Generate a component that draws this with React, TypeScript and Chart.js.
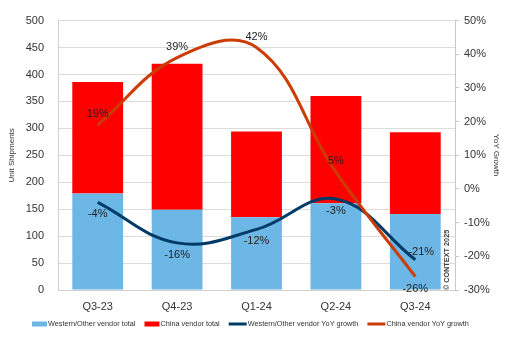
import { useEffect, useRef } from "react";
import { Chart, registerables } from "chart.js";

Chart.register(...registerables);

const categories = ["Q3-23", "Q4-23", "Q1-24", "Q2-24", "Q3-24"];
const westernTotal = [179, 149, 135, 161, 141];
const chinaTotal = [207, 271, 159, 199, 152];
const westernYoY = [-4, -16, -12, -3, -21];
const chinaYoY = [19, 39, 42, 5, -26];
const leftRange = { min: 0, max: 500, step: 50 };
const rightRange = { min: -30, max: 50, step: 10 };

const FONT = "'Liberation Sans', Arial, sans-serif";
const TEXT = "#333333";
const BLUE = "#6cb7e6";
const RED = "#ff0000";
const NAVY = "#003a66";
const ORANGE = "#cc3d06";

// label placement per line point (style, not data)
const placement: Record<string, string[]> = {
  china: ["above", "above", "above", "above", "below"],
  western: ["below", "below", "below", "below", "aboveRight"],
};

const overlayPlugin = {
  id: "overlay",
  afterDatasetsDraw(chart: any) {
    const ctx = chart.ctx;
    ctx.save();
    ctx.font = `11px ${FONT}`;
    ctx.fillStyle = "#222";
    ctx.textAlign = "center";
    ctx.textBaseline = "middle";
    chart.data.datasets.forEach((ds: any, i: number) => {
      if (ds.type !== "line") return;
      const meta = chart.getDatasetMeta(i);
      const pl = placement[ds.key];
      meta.data.forEach((pt: any, j: number) => {
        const v = ds.data[j];
        let dx = 0;
        let dy = 0;
        const p = pl[j];
        if (p === "above") dy = -11;
        else if (p === "below") dy = 12;
        else if (p === "aboveRight") { dy = -8; dx = 6; }
        ctx.fillText(`${v}%`, pt.x + dx, pt.y + dy);
      });
    });
    ctx.restore();
  },
  afterDraw(chart: any) {
    const ctx = chart.ctx;
    const area = chart.chartArea;
    ctx.save();
    // copyright
    ctx.translate(area.right - 8, area.bottom - 30);
    ctx.rotate(-Math.PI / 2);
    ctx.font = `bold 7.3px ${FONT}`;
    ctx.fillStyle = "#404040";
    ctx.textAlign = "center";
    ctx.textBaseline = "middle";
    ctx.fillText("© CONTEXT 2025", 0, 0);
    ctx.restore();

    // legend
    ctx.save();
    ctx.font = `7.3px ${FONT}`;
    ctx.textBaseline = "middle";
    ctx.textAlign = "left";
    let x = 32;
    const y = 324;
    chart.data.datasets.forEach((ds: any) => {
      if (ds.type === "line") {
        ctx.strokeStyle = ds.borderColor;
        ctx.lineWidth = 3;
        ctx.beginPath();
        ctx.moveTo(x, y);
        ctx.lineTo(x + 18, y);
        ctx.stroke();
        x += 18;
      } else {
        ctx.fillStyle = ds.backgroundColor;
        ctx.fillRect(x, y - 2.5, 15, 5);
        x += 15;
      }
      x += 1;
      ctx.fillStyle = TEXT;
      ctx.fillText(ds.label, x, y);
      x += ctx.measureText(ds.label).width + 9;
    });
    ctx.restore();
  },
};

export default function App() {
  const ref = useRef<HTMLCanvasElement | null>(null);

  useEffect(() => {
    document.body.style.margin = "0";
    if (!ref.current) return;
    const chart = new Chart(ref.current, {
      type: "bar",
      data: {
        labels: categories,
        datasets: [
          {
            type: "bar",
            key: "westernBar",
            label: "Western/Other vendor total",
            data: westernTotal,
            backgroundColor: BLUE,
            yAxisID: "y",
            stack: "s",
            order: 2,
            barPercentage: 0.64,
            categoryPercentage: 1,
          } as any,
          {
            type: "bar",
            key: "chinaBar",
            label: "China vendor total",
            data: chinaTotal,
            backgroundColor: RED,
            yAxisID: "y",
            stack: "s",
            order: 2,
            barPercentage: 0.64,
            categoryPercentage: 1,
          } as any,
          {
            type: "line",
            key: "western",
            label: "Western/Other vendor YoY growth",
            data: westernYoY,
            borderColor: NAVY,
            backgroundColor: NAVY,
            borderWidth: 3,
            pointRadius: 0,
            tension: 0.4,
            yAxisID: "y1",
            order: 1,
          } as any,
          {
            type: "line",
            key: "china",
            label: "China vendor YoY growth",
            data: chinaYoY,
            borderColor: ORANGE,
            backgroundColor: ORANGE,
            borderWidth: 3,
            pointRadius: 0,
            tension: 0.4,
            yAxisID: "y1",
            order: 0,
          } as any,
        ],
      },
      options: {
        responsive: false,
        animation: false,
        layout: { padding: { top: 16, bottom: 30, left: 0, right: 0 } },
        plugins: {
          legend: { display: false },
          tooltip: { enabled: false },
        },
        scales: {
          x: {
            stacked: true,
            grid: { display: false, drawTicks: false, tickLength: 0 },
            border: { display: true, color: "#d0d0d0" },
            ticks: { color: TEXT, font: { family: FONT, size: 11 }, padding: 10 },
            afterFit: (s: any) => { s.height = 26; },
          },
          y: {
            position: "left",
            stacked: true,
            min: leftRange.min,
            max: leftRange.max,
            grid: { color: "#dcdcdc", drawTicks: false },
            border: { display: true, color: "#d0d0d0" },
            ticks: { stepSize: leftRange.step, color: TEXT, font: { family: FONT, size: 11 }, padding: 14 },
            title: { display: true, text: "Unit Shipments", color: TEXT, font: { family: FONT, size: 8 }, padding: { top: 7, bottom: 0 } },
            afterFit: (s: any) => { s.width = 58; },
          },
          y1: {
            position: "right",
            stacked: false,
            min: rightRange.min,
            max: rightRange.max,
            grid: { drawOnChartArea: false, drawTicks: true, tickLength: 4, color: "#c8c8c8" },
            border: { display: true, color: "#c8c8c8" },
            ticks: {
              stepSize: rightRange.step,
              color: TEXT,
              font: { family: FONT, size: 11 },
              padding: 5,
              callback: (v: any) => `${v}%`,
            },
            title: { display: true, text: "YoY Growth", color: TEXT, font: { family: FONT, size: 8 }, padding: { top: 16, bottom: 0 } },
            afterFit: (s: any) => { s.width = 62; },
          },
        },
      } as any,
      plugins: [overlayPlugin],
    });
    return () => chart.destroy();
  }, []);

  return (
    <div style={{ width: 517, height: 346, background: "#fff" }}>
      <canvas ref={ref} width={517} height={346} />
    </div>
  );
}
